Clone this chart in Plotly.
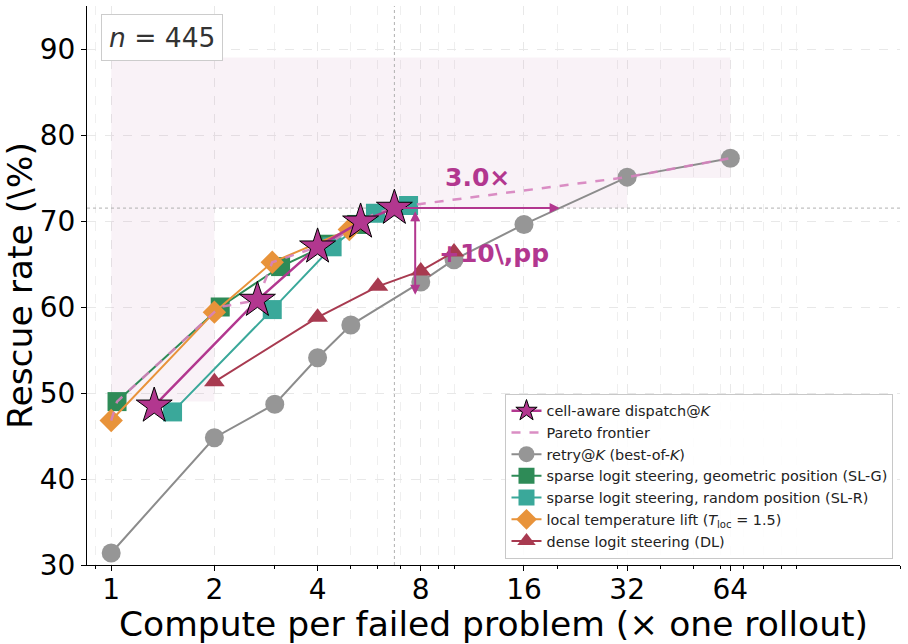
import math
import numpy as np
import plotly.graph_objects as go

# ---------------- data ----------------
retry_k = [1, 2, 3, 4, 5, 8, 10, 16, 32, 64]
retry_y = [31.4, 44.8, 48.7, 54.1, 57.9, 62.9, 65.5, 69.6, 75.1, 77.3]

slg_k = [1.04, 2.08, 3.12, 4.3, 5.2]
slg_y = [49.0, 60.0, 64.7, 67.3, 69.6]

slr_k = [1.51, 2.95, 4.41, 5.9, 7.37]
slr_y = [47.8, 59.7, 67.0, 70.9, 71.8]

ltl_k = [1.0, 2.0, 2.95, 4.95]
ltl_y = [46.8, 59.4, 65.2, 69.0]

dl_k = [2, 4, 6, 8, 10]
dl_y = [51.3, 58.8, 62.4, 64.2, 66.4]

cad_k = [1.335, 2.67, 4.0, 5.34, 6.7]
cad_y = [48.5, 60.8, 67.0, 69.9, 71.5]

shade_k = [1, 2, 32, 64]
shade_floor = [49.0, 71.5, 75.0]
shade_top = 89.0

n_problems = 445

x_ticks = [1, 2, 4, 8, 16, 32, 64]
x_minor = [0.9, 3, 5, 6, 7, 9, 10, 20, 30, 40, 50, 60, 70, 80, 90, 100, 200]
y_ticks = [30, 40, 50, 60, 70, 80, 90]

# ---------------- derived ----------------
pts = []
for ks, ys in [(retry_k, retry_y), (slg_k, slg_y), (slr_k, slr_y),
               (ltl_k, ltl_y), (dl_k, dl_y), (cad_k, cad_y)]:
    pts += list(zip(ks, ys))
pts.sort(key=lambda p: (p[0], -p[1]))
front = []
best = -1e9
for k, y in pts:
    if y > best:
        front.append((k, y))
        best = y
front_k = [p[0] for p in front]
front_y = [p[1] for p in front]

star_k, star_y = cad_k[-1], cad_y[-1]
lr = np.log2(retry_k)
k_match = 2 ** float(np.interp(star_y, retry_y, lr))
retry_at_star = float(np.interp(math.log2(star_k), lr, retry_y))
speedup = k_match / star_k
gap = star_y - retry_at_star

# shading polygon
sx = [shade_k[0], shade_k[-1]]
sy = [shade_top, shade_top]
for i in range(len(shade_floor) - 1, -1, -1):
    sx += [shade_k[i + 1], shade_k[i]]
    sy += [shade_floor[i], shade_floor[i]]

MAG = "#b2378f"
FONT = "DejaVu Sans"
XR = [0.85, 200]
YR = [30, 95]

fig = go.Figure()

fig.add_trace(go.Scatter(x=sx, y=sy, fill="toself", mode="none",
                         fillcolor="rgba(185,115,165,0.09)", showlegend=False,
                         hoverinfo="skip"))
# reference dotted lines
fig.add_trace(go.Scatter(x=[star_k, star_k], y=YR, mode="lines",
                         line=dict(color="#b0b0b0", width=1, dash="dot"),
                         showlegend=False, hoverinfo="skip"))
fig.add_trace(go.Scatter(x=XR, y=[star_y, star_y], mode="lines",
                         line=dict(color="#b0b0b0", width=1, dash="dot"),
                         showlegend=False, hoverinfo="skip"))

fig.add_trace(go.Scatter(x=retry_k, y=retry_y, mode="lines+markers",
                         name="retry@<i>K</i> (best-of-<i>K</i>)", legendrank=3,
                         line=dict(color="#8c8c8c", width=2),
                         marker=dict(symbol="circle", size=19, color="#969696")))
fig.add_trace(go.Scatter(x=slg_k, y=slg_y, mode="lines+markers",
                         name="sparse logit steering, geometric position (SL-G)", legendrank=4,
                         line=dict(color="#2e8b57", width=2),
                         marker=dict(symbol="square", size=19, color="#2e8b57")))
fig.add_trace(go.Scatter(x=slr_k, y=slr_y, mode="lines+markers",
                         name="sparse logit steering, random position (SL-R)", legendrank=5,
                         line=dict(color="#3aa89a", width=2),
                         marker=dict(symbol="square", size=19, color="#3aa89a")))
fig.add_trace(go.Scatter(x=ltl_k, y=ltl_y, mode="lines+markers",
                         name="local temperature lift (<i>T</i><sub>loc</sub> = 1.5)", legendrank=6,
                         line=dict(color="#e8933a", width=2),
                         marker=dict(symbol="diamond", size=18, color="#e8933a")))
fig.add_trace(go.Scatter(x=dl_k, y=dl_y, mode="lines+markers",
                         name="dense logit steering (DL)", legendrank=7,
                         line=dict(color="#a83a50", width=2),
                         marker=dict(symbol="triangle-up", size=18, color="#a83a50")))
fig.add_trace(go.Scatter(x=front_k, y=front_y, mode="lines",
                         name="Pareto frontier", legendrank=2,
                         line=dict(color="rgba(214,130,190,0.9)", width=2.5, dash="dash")))
fig.add_trace(go.Scatter(x=cad_k, y=cad_y, mode="lines+markers",
                         name="cell-aware dispatch@<i>K</i>", legendrank=1,
                         line=dict(color=MAG, width=2.5),
                         marker=dict(symbol="star", size=27, color=MAG,
                                     line=dict(color="black", width=1))))

L = math.log10
ann = [
    # horizontal arrow (speedup)
    dict(x=L(k_match), y=star_y, ax=L(star_k), ay=star_y, xref="x", yref="y",
         axref="x", ayref="y", text="", showarrow=True, arrowhead=2, arrowsize=1,
         arrowwidth=2, arrowcolor=MAG, standoff=0),
    # vertical double arrow (gap)
    dict(x=L(star_k * 1.15), y=retry_at_star + 0.4, ax=L(star_k * 1.15), ay=star_y - 0.2,
         xref="x", yref="y", axref="x", ayref="y", text="", showarrow=True,
         arrowhead=2, startarrowhead=2, arrowside="end+start", arrowsize=1,
         startarrowsize=1, arrowwidth=2, arrowcolor=MAG, standoff=0, startstandoff=0),
    dict(x=L(math.sqrt(star_k * k_match)), y=star_y, yshift=31, xref="x", yref="y",
         text=f"<b>{speedup:.1f}×</b>", showarrow=False,
         font=dict(family=FONT, size=25, color=MAG)),
    dict(x=L(star_k * 1.15), y=(star_y + retry_at_star) / 2, xshift=22, xanchor="left",
         xref="x", yref="y", text=f"<b>+{gap:.0f}\\,pp</b>", showarrow=False,
         font=dict(family=FONT, size=25, color=MAG)),
    dict(x=0.017, y=0.986, xref="paper", yref="paper", xanchor="left", yanchor="top",
         text=f"<i>n</i> = {n_problems}", showarrow=False,
         font=dict(family=FONT, size=26.5, color="#333333"),
         bordercolor="#cccccc", borderwidth=1, borderpad=7, bgcolor="white"),
    # x-axis title
    dict(x=0.5, y=-0.105, xref="paper", yref="paper", xanchor="center", yanchor="middle",
         text="Compute per failed problem (× one rollout)", showarrow=False,
         font=dict(family=FONT, size=34.5, color="black")),
]

fig.update_layout(
    width=908, height=644,
    margin=dict(l=87, r=8, t=6, b=79),
    plot_bgcolor="white", paper_bgcolor="white",
    font=dict(family=FONT, color="#000000"),
    annotations=ann,
    legend=dict(x=0.992, y=0.011, xanchor="right", yanchor="bottom",
                bgcolor="rgba(255,255,255,0.85)", bordercolor="#c8c8c8", borderwidth=1,
                font=dict(family=FONT, size=14.4, color="#222222"),
                tracegroupgap=0, itemsizing="trace"),
)
fig.update_xaxes(type="log", range=[L(XR[0]), L(XR[1])], automargin=False,
                 tickvals=x_ticks, ticktext=[str(v) for v in x_ticks],
                 tickfont=dict(family=FONT, size=28, color="black"),
                 ticklabelstandoff=-6,
                 showline=True, linecolor="black", linewidth=1.2,
                 ticks="outside", ticklen=5, tickcolor="black",
                 showgrid=True, gridcolor="#e8e8e8", griddash="dash", gridwidth=1,
                 minor=dict(tickvals=x_minor, ticks="outside", ticklen=3, tickcolor="black",
                            showgrid=True, gridcolor="#efefef", griddash="dash"),
                 zeroline=False)
fig.update_yaxes(range=YR, tickvals=y_ticks, automargin=False,
                 tickfont=dict(family=FONT, size=28, color="black"),
                 title=dict(text="Rescue rate (\\%)",
                            font=dict(family=FONT, size=34.5, color="black"), standoff=0),
                 showline=True, linecolor="black", linewidth=1.2,
                 ticks="outside", ticklen=5, tickcolor="black",
                 showgrid=True, gridcolor="#e8e8e8", griddash="dash", gridwidth=1,
                 zeroline=False)

fig.write_html("out.html")
